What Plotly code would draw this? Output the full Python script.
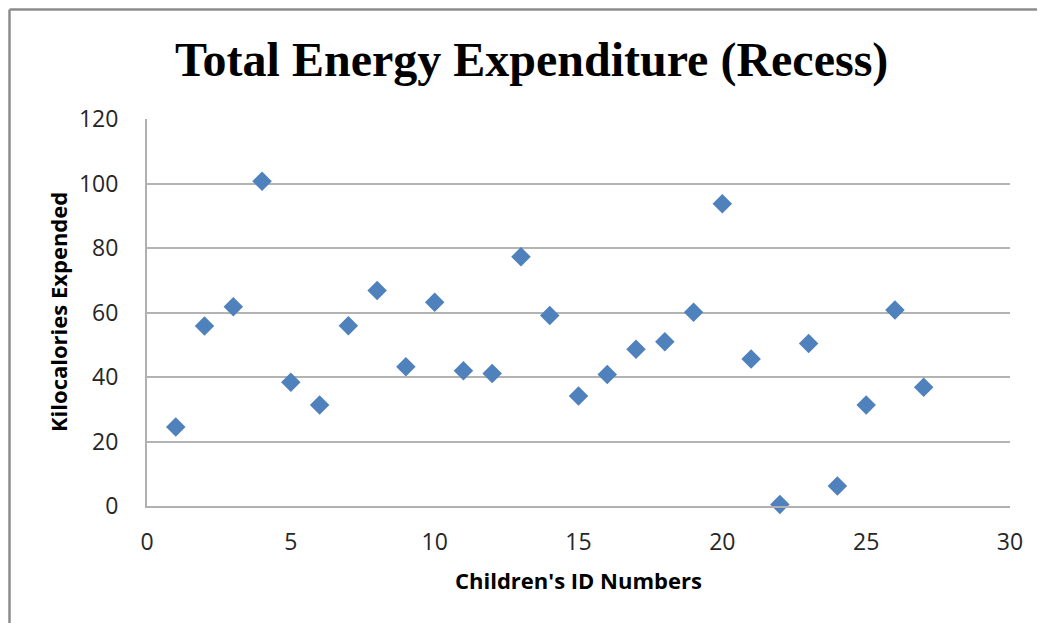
import plotly.graph_objects as go

child_ids = list(range(1, 28))
kilocalories = [24.5, 55.8, 61.8, 100.7, 38.4, 31.3, 55.9, 66.8, 43.2, 63.2,
                41.9, 41.1, 77.3, 59.1, 34.1, 40.8, 48.6, 50.9, 60.1, 93.7,
                45.6, 0.5, 50.4, 6.2, 31.3, 60.8, 36.8]

x_ticks = [0, 5, 10, 15, 20, 25, 30]
y_ticks = [0, 20, 40, 60, 80, 100, 120]

title_text = "Total Energy Expenditure (Recess)"
x_title = "Children's ID Numbers"
y_title = "Kilocalories Expended"

# page body has an 8px margin; compensate so screen pixels match the reference
OFF = 8
W, H = 1045 - OFF, 623 - OFF
L, R, T, B = 147 - OFF, 35, 119 - OFF, 117
pw, ph = W - L - R, H - T - B

def px_x(p):
    return (p - OFF - L) / pw

def px_y(p):
    return (H - B - (p - OFF)) / ph

fig = go.Figure()
fig.add_trace(go.Scatter(
    x=child_ids, y=kilocalories, mode="markers",
    marker=dict(symbol="diamond", size=15, color="#4F81BD",
                line=dict(width=0)),
    showlegend=False, cliponaxis=False,
))

fig.update_layout(
    width=W, height=H, autosize=False,
    margin=dict(l=L, r=R, t=T, b=B, pad=0),
    paper_bgcolor="white", plot_bgcolor="white",
    font=dict(family="Open Sans, sans-serif", color="#000000"),
    xaxis=dict(range=[0, 30], tickvals=x_ticks, showgrid=False,
               showline=True, linecolor="#b0b0b0", linewidth=2,
               zeroline=False, ticks="", ticklabelstandoff=14,
               tickfont=dict(size=23, color="#262626")),
    yaxis=dict(range=[0, 120], tickvals=y_ticks, showgrid=True,
               gridcolor="#b3b3b3", gridwidth=2,
               showline=True, linecolor="#b0b0b0", linewidth=2,
               zeroline=False, ticks="", ticklabelstandoff=22,
               tickfont=dict(size=23, color="#262626")),
)

fig.add_annotation(text=f"<b>{title_text}</b>", xref="paper", yref="paper",
                   x=px_x(531), y=px_y(60), showarrow=False,
                   xanchor="center", yanchor="middle",
                   font=dict(family="Liberation Serif, Times New Roman, serif",
                             size=48, color="#000000"))
fig.add_annotation(text=f"<b>{x_title}</b>", xref="paper", yref="paper",
                   x=px_x(578), y=px_y(580), showarrow=False,
                   xanchor="center", yanchor="middle",
                   font=dict(size=22, color="#000000"))
fig.add_annotation(text=f"<b>{y_title}</b>", xref="paper", yref="paper",
                   x=px_x(58), y=px_y(312), showarrow=False, textangle=-90,
                   xanchor="center", yanchor="middle",
                   font=dict(size=22, color="#000000"))

# chart-area border (top and left edges visible)
fig.add_shape(type="line", xref="paper", yref="paper",
              x0=px_x(9.5), x1=px_x(1060), y0=px_y(9.5), y1=px_y(9.5),
              line=dict(color="#8c8c8c", width=2.5))
fig.add_shape(type="line", xref="paper", yref="paper",
              x0=px_x(9.5), x1=px_x(9.5), y0=px_y(9.5), y1=px_y(640),
              line=dict(color="#8c8c8c", width=2.5))

fig.write_html("out.html")
